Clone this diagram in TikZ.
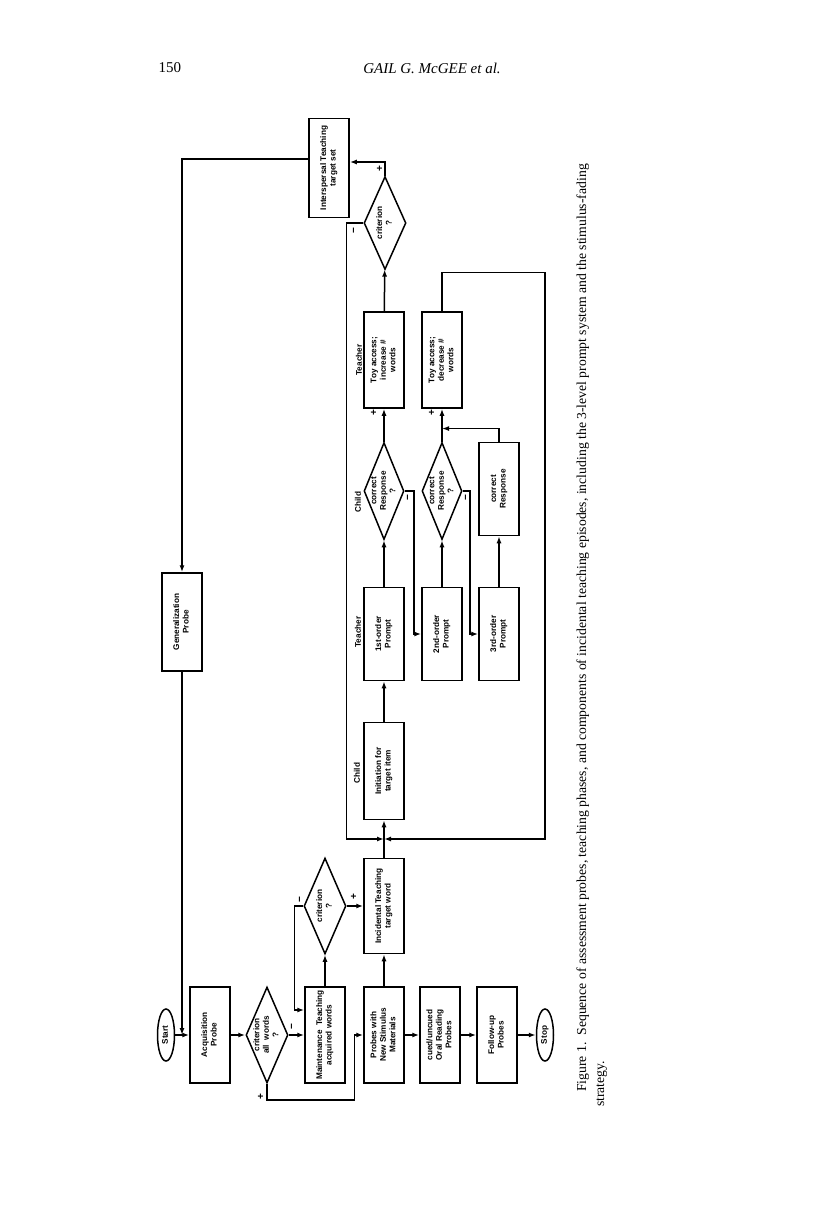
\documentclass[tikz,border=0pt]{standalone}
\usepackage{fontspec}
\setmainfont{Liberation Serif}
\setsansfont{Liberation Sans}
\usepackage{graphicx}
\usepackage{tikz}
\usetikzlibrary{shapes.geometric, arrows.meta, positioning, calc}

\newcommand{\vlab}[1]{\rotatebox{90}{\begin{tabular}{@{}c@{}}#1\end{tabular}}}

\begin{document}
\begin{tikzpicture}[
    x=1pt, y=-1pt,
    every node/.style={font=\sffamily\bfseries\fontsize{8.2}{9.4}\selectfont},
    box/.style={draw, line width=1.5pt, minimum width=40, minimum height=96, inner sep=0pt},
    decision/.style={draw, diamond, aspect=0.44, line width=1.5pt, minimum width=42,
                minimum height=96, inner sep=-5pt},
    terminal/.style={draw, ellipse, line width=1.5pt, minimum width=17, minimum height=52, inner sep=0pt},
    arrow/.style={-{Latex[length=7pt,width=5pt]}, line width=1.5pt},
    sign/.style={rotate=90, inner sep=0pt, font=\sffamily\bfseries\fontsize{10}{12}\selectfont},
    role/.style={rotate=90, inner sep=0pt},
    serif/.style={font=\rmfamily\fontsize{15}{18}\selectfont}
]
\useasboundingbox (0,0) rectangle (816,1219);

% running head
\node[serif, anchor=west] (pagenum) at (155,68) {150};
\node[serif, font=\rmfamily\itshape\fontsize{15}{18}\selectfont] (runhead) at (432,68) {GAIL G. McGEE et al.};

% assessment / teaching phases
\node[terminal] (start) at (166,1035) {\vlab{Start}};
\node[box] (acq) at (210,1035) {\vlab{Acquisition\\Probe}};
\node[decision] (critall) at (267,1035) {\vlab{criterion\\all\ \ words\\?}};
\node[box] (maint) at (325,1035) {\vlab{Maintenance\ \ Teaching\\acquired words}};
\node[box] (probes) at (384,1035) {\vlab{Probes with\\New Stimulus\\Materials}};
\node[box] (cued) at (440,1035) {\vlab{cued/uncued\\Oral Reading\\Probes}};
\node[box] (follow) at (497,1035) {\vlab{Follow-up\\Probes}};
\node[terminal] (stop) at (545,1035) {\vlab{Stop}};

\node[decision] (crit) at (325,906) {\vlab{criterion\\?}};
\node[box, minimum height=95] (incid) at (384,906) {\vlab{Incidental Teaching\\target word}};
\node[box, minimum height=98] (gen) at (182,622) {\vlab{Generalization\\Probe}};
\node[box, minimum height=99] (inter) at (329,168) {\vlab{Interspersal Teaching\\target set}};

% incidental teaching episode
\node[box, minimum height=97] (init) at (384,771) {\vlab{Initiation for\\target item}};
\node[box, minimum height=93] (prompt1) at (384,634) {\vlab{1st-order\\Prompt}};
\node[box, minimum height=93] (prompt2) at (442,634) {\vlab{2nd-order\\Prompt}};
\node[box, minimum height=93] (prompt3) at (499,634) {\vlab{3rd-order\\Prompt}};
\node[decision, minimum width=40, minimum height=97] (resp1) at (384,491) {\vlab{correct\\Response\\?}};
\node[decision, minimum width=40, minimum height=97] (resp2) at (442,491) {\vlab{correct\\Response\\?}};
\node[box, minimum height=93] (corr) at (499,489) {\vlab{correct\\Response}};
\node[box] (toyinc) at (384,360) {\vlab{Toy access;\\increase \#\\words}};
\node[box] (toydec) at (442,360) {\vlab{Toy access;\\decrease \#\\words}};
\node[decision, minimum height=93] (crit3) at (385,223) {\vlab{criterion\\?}};

\node[role] (child1) at (357,773) {Child};
\node[role] (teacher1) at (358,632) {Teacher};
\node[role] (child2) at (358,502) {Child};
\node[role] (teacher2) at (359,360) {Teacher};

% connectors
\draw[arrow] (start) -- (acq);
\draw[arrow] (acq) -- (critall);
\draw[arrow] (critall) -- (maint);
\draw[arrow] (critall.south) -- ++(0,16) -| ([xshift=-9]probes.west) -- (probes.west);
\draw[arrow] (maint.north) -- (crit.south);
\draw[arrow] (crit.west) -- ++(-9,0) |- ([yshift=25]maint.west);
\draw[arrow] (crit.east) -- (incid.west);
\draw[arrow] (probes) -- (incid);
\draw[arrow] (probes) -- (cued);
\draw[arrow] (cued) -- (follow);
\draw[arrow] (follow) -- (stop);

\coordinate (merge) at ($(incid.north)!0.5!(init.south)$);
\draw[arrow] (incid) -- (init);
\draw[arrow] (init) -- (prompt1);
\draw[arrow] (prompt1) -- (resp1);
\draw[arrow] (resp1) -- (toyinc);
\draw[arrow] (toyinc) -- (crit3);
\draw[arrow] (resp1.east) -- ++(9,0) |- (prompt2.west);
\draw[arrow] (resp2.east) -- ++(7,0) |- (prompt3.west);
\draw[arrow] (prompt2) -- (resp2);
\draw[arrow] (resp2) -- (toydec);
\draw[arrow] (prompt3) -- (corr);
\coordinate (rejoin) at ($(resp2.north)!0.4!(toydec.south)$);
\draw[arrow] (corr.north) |- (rejoin);

\draw[arrow] (crit3.north) |- ([yshift=6]inter.east);
\draw[arrow] ([yshift=9]inter.west) -| (gen.north);
\coordinate (gentip) at (gen.south |- start.east);
\draw[arrow] (gen.south) -- (gentip);
\draw[arrow] (crit3.west) -- ++(-17,0) |- (merge);
\draw[arrow] (toydec.north) -- ++(0,-39) -| ($(merge)+(161,0)$) -- (merge);

% branch signs
\node[sign] (s1) at (293,1027) {−};
\node[sign] (s2) at (261,1097) {+};
\node[sign] (s3) at (301,900) {−};
\node[sign] (s4) at (354,897) {+};
\node[sign] (s5) at (355,231) {−};
\node[sign] (s6) at (380,169) {+};
\node[sign] (s7) at (409,498) {−};
\node[sign] (s8) at (467,498) {−};
\node[sign] (s9) at (374,413) {+};
\node[sign] (s10) at (432,413) {+};

% caption
\node[font=\rmfamily\fontsize{13.7}{16}\selectfont, rotate=90, anchor=base west, inner sep=0pt] (caption)
    at (586,1092) {Figure 1.\ \ Sequence of assessment probes, teaching phases, and components of incidental teaching episodes, including the 3-level prompt system and the stimulus-fading};
\node[font=\rmfamily\fontsize{13.7}{16}\selectfont, rotate=90, anchor=base west, inner sep=0pt] (captail)
    at (604,1107) {strategy.};
\end{tikzpicture}
\end{document}
